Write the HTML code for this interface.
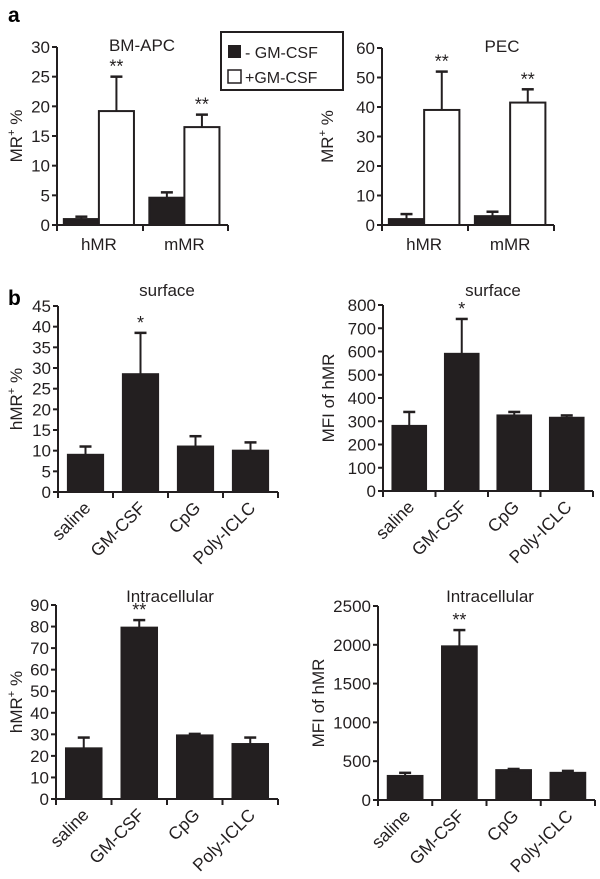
<!DOCTYPE html>
<html><head><meta charset="utf-8"><style>
html,body{margin:0;padding:0;background:#fff;}
svg{display:block;font-family:"Liberation Sans",Arial,sans-serif;}
</style></head><body>
<svg id="fig" width="600" height="879" viewBox="0 0 600 879" xmlns="http://www.w3.org/2000/svg">
<text x="8" y="22" font-size="21" font-weight="bold">a</text>
<text x="8" y="305" font-size="21" font-weight="bold">b</text>
<g>
<rect x="221" y="32" width="122" height="58" fill="#fff" stroke="#231f20" stroke-width="2"/>
<rect x="228" y="45" width="13" height="13" fill="#231f20"/>
<text x="245" y="58" font-size="16" fill="#231f20">- GM-CSF</text>
<rect x="228" y="70" width="13" height="13" fill="#fff" stroke="#231f20" stroke-width="1.5"/>
<text x="245" y="83" font-size="16" fill="#231f20">+GM-CSF</text>
</g>
</svg>
<script>
// Panel a1: BM-APC
const a1Groups = ["hMR","mMR"];
const a1Minus = [1.0, 4.6];
const a1MinusErr = [0.4, 0.9];
const a1Plus = [19.2, 16.5];
const a1PlusErr = [5.8, 2.1];
const a1Ticks = [0,5,10,15,20,25,30];
// Panel a2: PEC
const a2Groups = ["hMR","mMR"];
const a2Minus = [2.0, 3.0];
const a2MinusErr = [1.7, 1.5];
const a2Plus = [39, 41.5];
const a2PlusErr = [13, 4.5];
const a2Ticks = [0,10,20,30,40,50,60];
// Panel b
const bCategories = ["saline","GM-CSF","CpG","Poly-ICLC"];
const b1Values = [9, 28.5, 11, 10];
const b1Err = [2, 10, 2.5, 2];
const b1Ticks = [0,5,10,15,20,25,30,35,40,45];
const b2Values = [280, 590, 325, 315];
const b2Err = [60, 150, 15, 10];
const b2Ticks = [0,100,200,300,400,500,600,700,800];
const b3Values = [23.5, 79.5, 29.5, 25.5];
const b3Err = [5, 3.5, 0.7, 3];
const b3Ticks = [0,10,20,30,40,50,60,70,80,90];
const b4Values = [310, 1980, 385, 350];
const b4Err = [40, 210, 15, 25];
const b4Ticks = [0,500,1000,1500,2000,2500];

const NS="http://www.w3.org/2000/svg";
const svg=document.getElementById('fig');
const C="#231f20";
function el(tag,attrs,parent){const e=document.createElementNS(NS,tag);for(const k in attrs)e.setAttribute(k,attrs[k]);(parent||svg).appendChild(e);return e;}

function axes(g,ax,y0,yTop,xEnd,ticks,tickXs,ylabel,ylx,title,tx,ty){
  const max=ticks[ticks.length-1];
  const ys=v=>y0-(v/max)*(y0-yTop);
  const yl=el('line',{x1:ax,y1:y0+1,x2:ax,y2:yTop,stroke:C,'stroke-width':2},g);
  
  
  const xl=el('line',{x1:ax-1,y1:y0,x2:xEnd,y2:y0,stroke:C,'stroke-width':2},g);
  
  
  ticks.forEach(t=>{
    el('line',{x1:ax-5,y1:ys(t),x2:ax,y2:ys(t),stroke:C,'stroke-width':2},g);
    const tt=el('text',{x:ax-7,y:ys(t)+6,'font-size':17,'text-anchor':'end',fill:C},g);
    tt.textContent=t;
    
    
  });
  tickXs.forEach(x=>el('line',{x1:x,y1:y0,x2:x,y2:y0+6,stroke:C,'stroke-width':2},g));
  const yt=el('text',{x:0,y:0,'font-size':17,'text-anchor':'middle',fill:C,transform:`translate(${ylx},${(y0+yTop)/2}) rotate(-90)`},g);
  yt.innerHTML=ylabel;
  
  
  const ti=el('text',{x:tx,y:ty,'font-size':17,'text-anchor':'middle',fill:C},g);
  ti.textContent=title;
  
  
  return ys;
}
function bar(g,x,w,v,e,ys,fill,star){
  const y=ys(v);
  const ey=ys(v+e);
  el('line',{x1:x+w/2,y1:y,x2:x+w/2,y2:ey,stroke:C,'stroke-width':2},g);
  el('line',{x1:x+w/2-6,y1:ey,x2:x+w/2+6,y2:ey,stroke:C,'stroke-width':2.5},g);
  const r=el('rect',{x:x,y:y,width:w,height:ys(0)-y,fill:fill,stroke:C,'stroke-width':2},g);
  
  
  if(star){const s=el('text',{x:x+w/2,y:ey-4,'font-size':18,'text-anchor':'middle',fill:C},g);s.textContent=star;
    
    }
}
function panelA(name,ax,y0,yTop,xEnd,tickXs,ticks,groups,minus,minusErr,plus,plusErr,ylx,title,tx,ty){
  const g=el('g',{});
  
  
  const ys=axes(g,ax,y0,yTop,xEnd,ticks,tickXs,'MR<tspan font-size="11" dy="-7">+</tspan><tspan dy="7"> %</tspan>',ylx,title,tx,ty);
  const gw=(xEnd-ax)/groups.length;
  groups.forEach((gr,i)=>{
    const gx=ax+i*gw;
    bar(g,gx+gw*0.08,gw*0.41,minus[i],minusErr[i],ys,C,null);
    bar(g,gx+gw*0.49,gw*0.41,plus[i],plusErr[i],ys,'#fff','**');
    const lb=el('text',{x:gx+gw*0.49,y:y0+25,'font-size':17,'text-anchor':'middle',fill:C},g);
    lb.textContent=gr;
    
    
  });
}
function panelB(name,ax,y0,yTop,xEnd,ticks,vals,errs,stars,ylabel,ylx,title,tx,ty){
  const g=el('g',{});
  
  
  const n=bCategories.length, gw=(xEnd-ax)/n;
  const tickXs=[]; for(let i=0;i<=n;i++)tickXs.push(ax+i*gw);
  const ys=axes(g,ax,y0,yTop,xEnd,ticks,tickXs,ylabel,ylx,title,tx,ty);
  bCategories.forEach((c,i)=>{
    const x=ax+i*gw+gw*0.18, w=gw*0.64;
    bar(g,x,w,vals[i],errs[i],ys,C,stars[i]);
    const cx=x+w/2+6, cy=y0+17;
    const lb=el('text',{x:cx,y:cy,'font-size':17.5,'text-anchor':'end',fill:C,transform:`rotate(-45 ${cx} ${cy})`},g);
    lb.textContent=c;
    
    
  });
}
panelA('chart-bm-apc',57,225,47,228,[57,143,228],a1Ticks,a1Groups,a1Minus,a1MinusErr,a1Plus,a1PlusErr,22,'BM-APC',142,51);
panelA('chart-pec',382,225,48,554,[382,468,554],a2Ticks,a2Groups,a2Minus,a2MinusErr,a2Plus,a2PlusErr,333,'PEC',502,52);
panelB('chart-surface-percent',58,492,306,278,b1Ticks,b1Values,b1Err,['','*','',''],'hMR<tspan font-size="11" dy="-7">+</tspan><tspan dy="7"> %</tspan>',22,'surface',167,296);
panelB('chart-surface-mfi',383,491,305,593,b2Ticks,b2Values,b2Err,['','*','',''],'MFI of hMR',334,'surface',493,296);
panelB('chart-intracellular-percent',56,799,605,278,b3Ticks,b3Values,b3Err,['','**','',''],'hMR<tspan font-size="11" dy="-7">+</tspan><tspan dy="7"> %</tspan>',22,'Intracellular',170,602);
panelB('chart-intracellular-mfi',378,800,606,595,b4Ticks,b4Values,b4Err,['','**','',''],'MFI of hMR',324,'Intracellular',490,602);
</script>
</body></html>
